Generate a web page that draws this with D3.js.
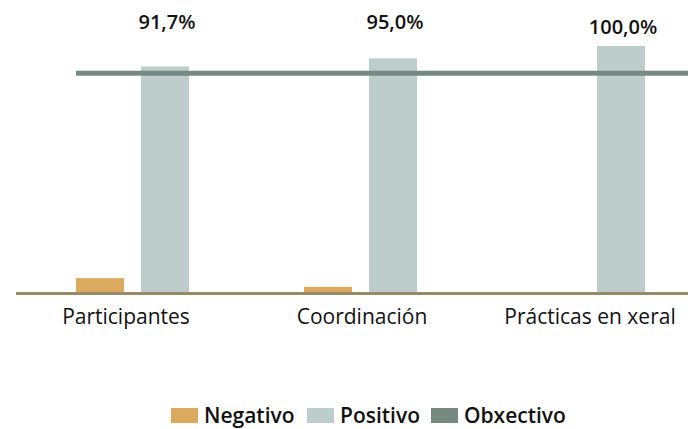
<!DOCTYPE html>
<html>
<head>
<meta charset="utf-8">
<script src="https://cdn.jsdelivr.net/npm/d3@7"></script>
<style>
  html, body { margin: 0; padding: 0; background: #ffffff; }
  svg { display: block; font-family: "Open Sans", sans-serif; }
</style>
</head>
<body>
<svg id="chart" width="688" height="429"></svg>
<script>
const categories = ["Participantes", "Coordinación", "Prácticas en xeral"];
const negativo = [6.0, 2.5, 0];
const positivo = [91.7, 95.0, 100.0];
const obxectivo = 89;
const series = ["Negativo", "Positivo"];
const valueLabels = ["91,7%", "95,0%", "100,0%"];
const legendItems = ["Negativo", "Positivo", "Obxectivo"];

const colors = { Negativo: "#dcaa5f", Positivo: "#bdcdcc", Obxectivo: "#768980" };

const svg = d3.select("#chart");
const W = 688, H = 429;

const x = d3.scaleBand().domain(categories).range([20, 704]).paddingInner(0).paddingOuter(0);
const xs = d3.scaleBand().domain(series).range([56, 169]).paddingInner(17 / 65);
const y = d3.scaleLinear().domain([0, 100]).range([293, 46]);

const data = categories.map((c, i) => ({ cat: c, Negativo: negativo[i], Positivo: positivo[i], label: valueLabels[i] }));

// bars
const g = svg.append("g");
data.forEach(d => {
  series.forEach(s => {
    if (d[s] > 0) {
      g.append("rect")
        .attr("x", x(d.cat) + xs(s))
        .attr("y", y(d[s]))
        .attr("width", xs.bandwidth())
        .attr("height", y(0) - y(d[s]))
        .attr("fill", colors[s]);
    }
  });
});

// baseline axis
svg.append("line")
  .attr("x1", 16).attr("x2", W)
  .attr("y1", y(0) + 0.5).attr("y2", y(0) + 0.5)
  .attr("stroke", "#978a69").attr("stroke-width", 3);

// objective line
svg.append("line")
  .attr("x1", x(categories[0]) + xs("Negativo")).attr("x2", W)
  .attr("y1", y(obxectivo)).attr("y2", y(obxectivo))
  .attr("stroke", colors.Obxectivo).attr("stroke-width", 5);

// value labels (fixed row above the chart)
data.forEach(d => {
  svg.append("text")
    .attr("x", x(d.cat) + xs("Positivo") + xs.bandwidth() / 2 + 2)
    .attr("y", d.Positivo >= 100 ? 34 : 29)
    .attr("text-anchor", "middle")
    .attr("font-size", 20)
    .attr("font-weight", 600)
    .attr("fill", "#111")
    .text(d.label);
});

// category labels
const xAxis = d3.axisBottom(x).tickSize(0).tickPadding(0);
const ax = svg.append("g").attr("transform", `translate(0, ${y(0)})`).call(xAxis);
ax.select(".domain").remove();
ax.selectAll("text")
  .attr("y", 31)
  .attr("dy", 0)
  .attr("font-size", 21)
  .attr("font-weight", 500)
  .attr("font-family", "Open Sans, sans-serif")
  .attr("fill", "#111");
ax.selectAll(".tick").filter((d, i) => i === 0).select("text").attr("x", -8);

// legend
const legendX = [171, 307, 431];
const lg = svg.append("g");
legendItems.forEach((name, i) => {
  lg.append("rect")
    .attr("x", legendX[i]).attr("y", 408)
    .attr("width", 27).attr("height", 15)
    .attr("fill", colors[name]);
  lg.append("text")
    .attr("x", legendX[i] + 33).attr("y", 423)
    .attr("font-size", 21)
    .attr("font-weight", 600)
    .attr("fill", "#111")
    .text(name);
});
</script>
</body>
</html>
